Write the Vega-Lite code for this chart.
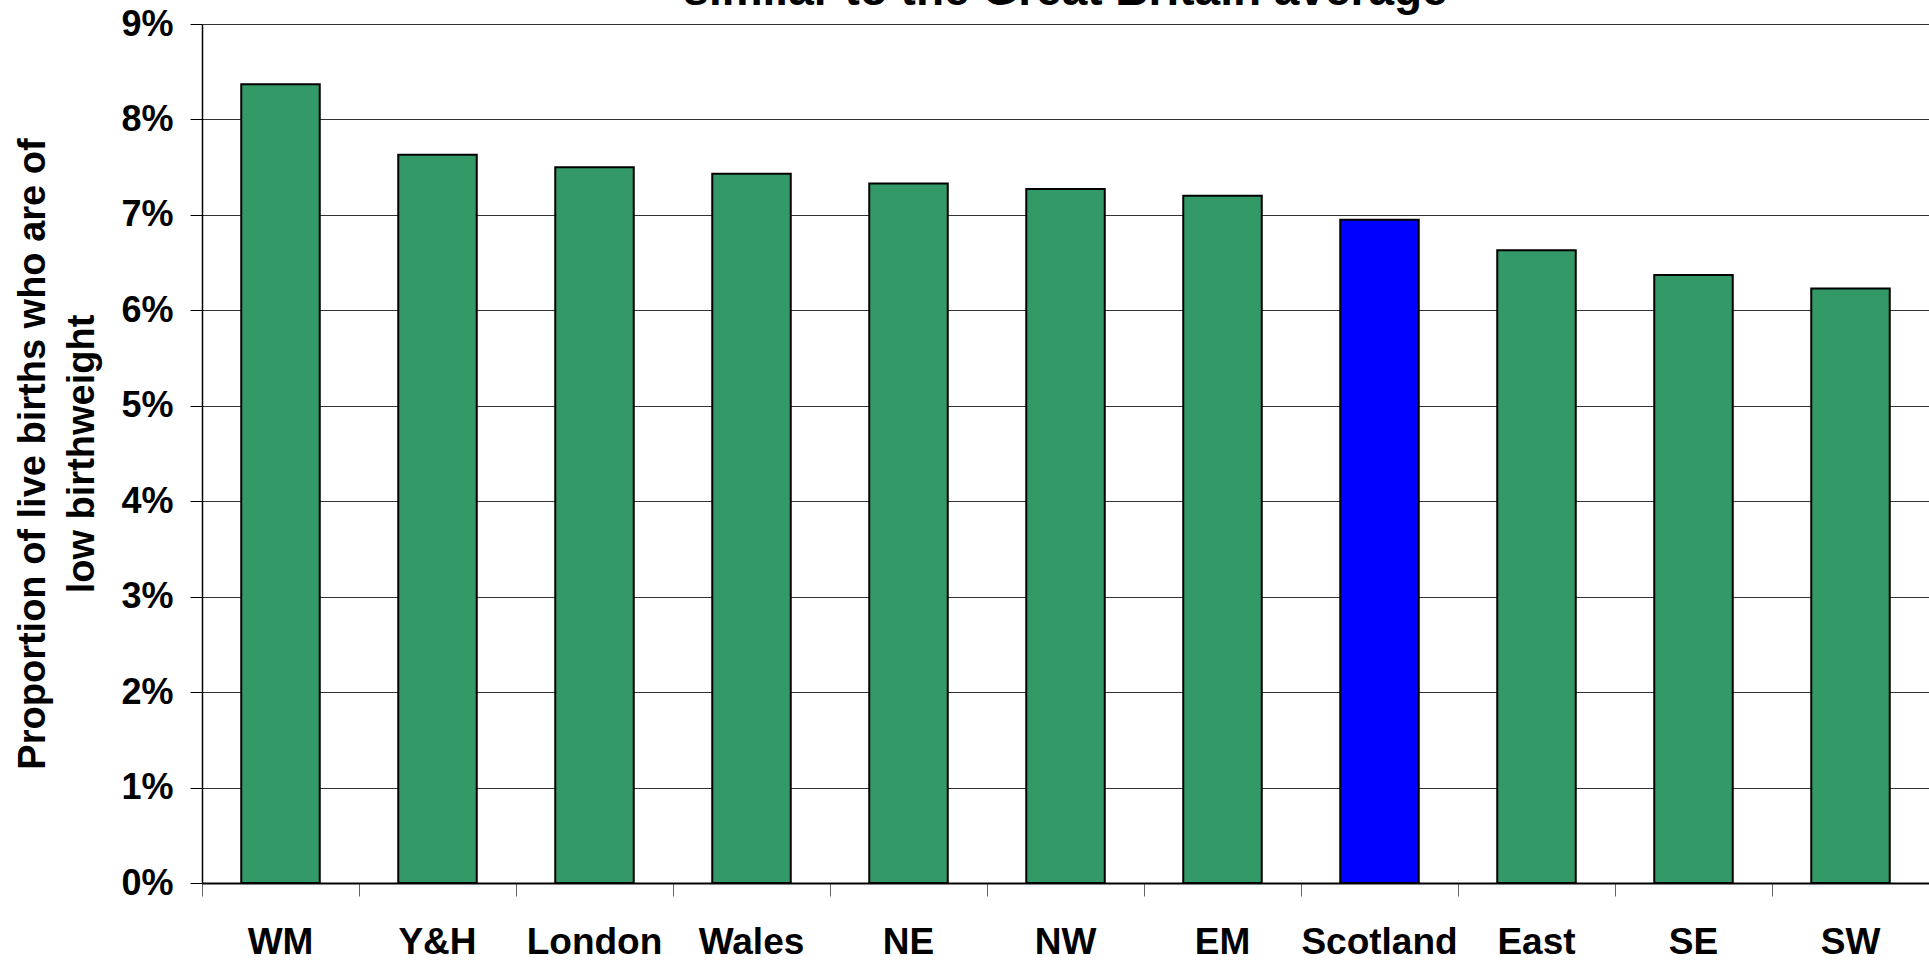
{
  "$schema": "https://vega.github.io/schema/vega-lite/v6.json",
  "autosize": {"type": "none"},
  "width": 1727,
  "height": 859,
  "padding": {"left": 202, "top": 24, "right": 0, "bottom": 77},
  "background": "white",
  "title": {
    "text": "similar to the Great Britain average",
    "font": "Liberation Sans",
    "fontSize": 46,
    "fontWeight": "bold",
    "color": "black",
    "anchor": "middle",
    "frame": "group",
    "baseline": "alphabetic",
    "offset": -45
  },
  "data": {
    "values": [
      {"region": "WM", "pct": 8.37, "group": "other"},
      {"region": "Y&H", "pct": 7.63, "group": "other"},
      {"region": "London", "pct": 7.50, "group": "other"},
      {"region": "Wales", "pct": 7.43, "group": "other"},
      {"region": "NE", "pct": 7.33, "group": "other"},
      {"region": "NW", "pct": 7.27, "group": "other"},
      {"region": "EM", "pct": 7.20, "group": "other"},
      {"region": "Scotland", "pct": 6.95, "group": "Scotland"},
      {"region": "East", "pct": 6.63, "group": "other"},
      {"region": "SE", "pct": 6.37, "group": "other"},
      {"region": "SW", "pct": 6.23, "group": "other"}
    ]
  },
  "mark": {"type": "bar", "stroke": "black", "strokeWidth": 2},
  "encoding": {
    "x": {
      "field": "region",
      "type": "nominal",
      "sort": null,
      "scale": {"paddingInner": 0.5, "paddingOuter": 0.25},
      "axis": {
        "title": null,
        "labelAngle": 0,
        "labelFont": "Liberation Sans",
        "labelFontSize": 37,
        "labelFontWeight": "bold",
        "labelColor": "black",
        "labelPadding": 28,
        "labelBaseline": "top",
        "bandPosition": -0.5,
        "tickSize": 13,
        "tickColor": "#666",
        "tickWidth": 1,
        "domainColor": "black",
        "domainWidth": 2,
        "grid": false
      }
    },
    "y": {
      "field": "pct",
      "type": "quantitative",
      "scale": {"domain": [0, 9], "nice": false},
      "axis": {
        "title": ["Proportion of live births who are of", "low birthweight"],
        "titleFont": "Liberation Sans",
        "titleFontSize": 38,
        "titleFontWeight": "bold",
        "titleColor": "black",
        "titleLineHeight": 49,
        "titlePadding": 19,
        "values": [0, 1, 2, 3, 4, 5, 6, 7, 8, 9],
        "labelExpr": "datum.value + '%'",
        "labelFont": "Liberation Sans",
        "labelFontSize": 36,
        "labelFontWeight": "bold",
        "labelColor": "black",
        "labelPadding": 17,
        "tickSize": 12,
        "tickColor": "black",
        "domainColor": "black",
        "domainWidth": 1.5,
        "grid": true,
        "gridColor": "#333",
        "gridWidth": 1
      }
    },
    "color": {
      "field": "group",
      "type": "nominal",
      "scale": {"domain": ["other", "Scotland"], "range": ["#339966", "#0000FF"]},
      "legend": null
    }
  },
  "config": {
    "view": {"stroke": null},
    "bar": {"opacity": 1}
  }
}
